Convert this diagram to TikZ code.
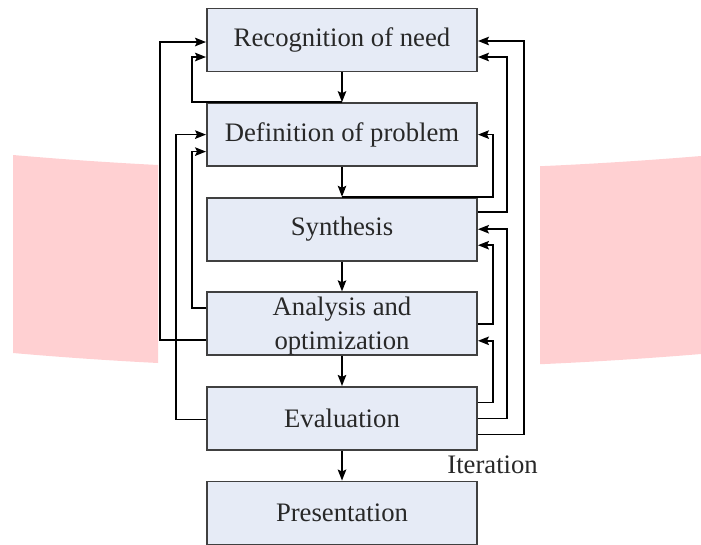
\documentclass[tikz,border=0pt]{standalone}
\usepackage{fontspec}
\setmainfont{Liberation Serif}
\usetikzlibrary{arrows.meta,calc}
\definecolor{pinkbg}{RGB}{255,208,210}
\definecolor{boxfill}{RGB}{230,235,246}
\definecolor{boxline}{RGB}{64,64,64}
\definecolor{txt}{RGB}{40,40,40}
\begin{document}
\begin{tikzpicture}[x=1pt,y=-1pt,
  stagebox/.style={draw=boxline, line width=1.9pt, fill=boxfill,
    minimum width=270pt, minimum height=63pt, inner sep=0pt, text=txt,
    font=\fontsize{26.7}{34}\selectfont, align=center},
  flow/.style={line width=1.6pt, draw=black,
    -{Stealth[length=11pt,width=8.5pt,inset=2pt]}},
  lbl/.style={font=\fontsize{26.7}{33}\selectfont, text=txt, inner sep=0pt}]
\useasboundingbox (0,0) rectangle (701,544);
% pink band behind the diagram
\begin{scope}
  \clip (0,0) rectangle (158,544) (540,0) rectangle (701,544);
  \fill[pinkbg] (13,155) .. controls (242,175) and (472,175) .. (701,156)
    -- (701,354) .. controls (472,373) and (242,373) .. (13,353) -- cycle;
\end{scope}
% stages
\node[stagebox] (rec) at (342,40) {Recognition of need};
\node[stagebox] (def) at (342,134.6) {Definition of problem};
\node[stagebox] (syn) at (342,229.2) {Synthesis};
\node[stagebox] (ana) at (342,323.8) {\rule{0pt}{23pt}Analysis and\\optimization};
\node[stagebox] (eva) at (342,418.4) {Evaluation};
\node[stagebox] (pre) at (342,513) {Presentation};
% main flow
\draw[flow] (rec) -- (def);
\draw[flow] (def) -- (syn);
\draw[flow] (syn) -- (ana);
\draw[flow] (ana) -- (eva);
\draw[flow] (eva) -- (pre);
% guide lines for feedback routes
\coordinate (L1) at (160,0);
\coordinate (L2) at (176,0);
\coordinate (L3) at (192,0);
\coordinate (R1) at (493,0);
\coordinate (R2) at (507,0);
\coordinate (R3) at (524,0);
% left feedback
\coordinate (sa1) at ($(ana.west)+(0,16)$);
\coordinate (ta1) at ($(rec.west)+(0,2)$);
\draw[flow] (sa1) -- (sa1 -| L1) |- (ta1);
\coordinate (ta2) at ($(rec.west)+(0,17)$);
\draw[flow] (def.north) -- (def.north -| L3) |- (ta2);
\coordinate (sa3) at ($(eva.west)+(0,1)$);
\draw[flow] (sa3) -- (sa3 -| L2) |- (def.west);
\coordinate (sa4) at ($(ana.west)+(0,-16)$);
\coordinate (ta4) at ($(def.west)+(0,17)$);
\draw[flow] (sa4) -- (sa4 -| L3) |- (ta4);
% right feedback
\coordinate (sb1) at ($(eva.east)+(0,16)$);
\coordinate (tb1) at ($(rec.east)+(0,1)$);
\draw[flow] (sb1) -- (sb1 -| R3) |- (tb1);
\coordinate (sb2) at ($(syn.east)+(0,-17)$);
\coordinate (tb2) at ($(rec.east)+(0,17)$);
\draw[flow] (sb2) -- (sb2 -| R2) |- (tb2);
\draw[flow] (syn.north) -- (syn.north -| R1) |- (def.east);
\draw[flow] (eva.east) -- (eva.east -| R2) |- (syn.east);
\coordinate (tb5) at ($(syn.east)+(0,16)$);
\draw[flow] (ana.east) -- (ana.east -| R1) |- (tb5);
\coordinate (sb6) at ($(eva.east)+(0,-16)$);
\coordinate (tb6) at ($(ana.east)+(0,17)$);
\draw[flow] (sb6) -- (sb6 -| R1) |- (tb6);
% label
\node[lbl, anchor=base east] (iter) at (538,473) {Iteration};
\end{tikzpicture}
\end{document}
